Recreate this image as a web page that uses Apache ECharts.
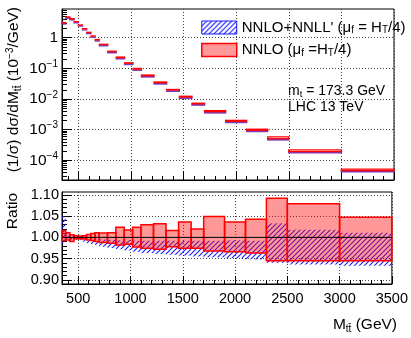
<!DOCTYPE html>
<html><head><meta charset="utf-8">
<script src="https://cdn.jsdelivr.net/npm/echarts@6/dist/echarts.min.js"></script>
<style>html,body{margin:0;padding:0;background:#fff}#c{width:411px;height:338px}</style>
</head><body><div id="c"></div>
<script>
// ---------- data ----------
const binEdges = [345,380,420,460,500,540,580,620,660,700,780,860,940,1020,1100,1220,1340,1460,1580,1700,1900,2100,2300,2500,3000,3500];
// normalized distribution (10^-3 / GeV)
const distValues = [3.0,4.6,4.07,3.25,2.54,1.92,1.46,1.11,0.84,0.59,0.35,0.223,0.146,0.095,0.0575,0.034,0.0197,0.0116,0.0070,0.0039,0.0019,0.00097,0.00052,0.00020,0.000048];
// ratio bands: NNLO+NNLL' (blue hatched)
const resumLow  = [0.986,0.991,0.992,0.996,0.994,0.990,0.986,0.984,0.982,0.978,0.975,0.972,0.969,0.966,0.963,0.961,0.959,0.957,0.955,0.953,0.951,0.948,0.940,0.936,0.933];
const resumHigh = [1.050,1.013,1.008,1.004,1.002,1.000,0.998,0.997,0.996,0.995,0.994,0.993,0.993,0.992,0.992,0.992,0.992,0.992,0.992,0.992,0.993,0.992,1.033,1.018,1.011];
// ratio bands: NNLO (red filled)
const nnloLow  = [0.9925,0.994,0.990,0.996,0.997,0.996,0.994,0.9925,0.990,0.988,0.986,0.982,0.984,0.977,0.9745,0.972,0.978,0.9745,0.9745,0.968,0.966,0.963,0.945,0.945,0.945];
const nnloHigh = [1.016,1.011,1.006,1.004,1.0035,1.004,1.0067,1.009,1.011,1.010,1.011,1.024,1.0176,1.024,1.030,1.032,1.016,1.0365,1.020,1.049,1.036,1.043,1.092,1.079,1.0475];
const ratioReference = 1.0;
// ticks
const xMajorTicks = [500,1000,1500,2000,2500,3000,3500];
const logMajorTicks = [1e-4,1e-3,1e-2,1e-1,1];
const ratioMajorTicks = [0.90,0.95,1.00,1.05,1.10];
const xRange = [345,3500];
const logRange = [2.28e-5, 8.64];
const ratioRange = [0.89, 1.107];

const xMinorTicks = []; for (let v = 400; v <= 3500; v += 100) xMinorTicks.push(v);
const logMinorTicks = []; for (let e = -5; e <= 0; e++) for (let k = 2; k <= 9; k++) { const v = k * Math.pow(10, e); if (v > logRange[0] && v < logRange[1]) logMinorTicks.push(v); }
const ratioMinorTicks = []; for (let i = 89; i <= 110; i++) ratioMinorTicks.push(i / 100);

const FONT = '"Liberation Sans", Arial, Helvetica, sans-serif';
const BLUE = '#1a1aff', RED = '#ff0000', REDFILL = 'rgba(255,0,0,0.4)';

function hatchCanvas() {
  const n = 5;
  const c = document.createElement('canvas'); c.width = n; c.height = n;
  const g = c.getContext('2d'); g.strokeStyle = BLUE; g.lineWidth = 1.1; g.lineCap = 'square';
  g.beginPath(); g.moveTo(0, n); g.lineTo(n, 0); g.moveTo(-1, 1); g.lineTo(1, -1); g.moveTo(n - 1, n + 1); g.lineTo(n + 1, n - 1); g.stroke();
  return c;
}
const HATCH = { image: hatchCanvas(), repeat: 'repeat' };

function bins(lows, highs, scale) {
  return binEdges.slice(0, -1).map((lo, i) => [lo, binEdges[i + 1], lows[i] * (scale ? scale[i] : 1), highs[i] * (scale ? scale[i] : 1)]);
}
function rectItem(api) {
  const a = api.coord([api.value(0), api.value(3)]);
  const b = api.coord([api.value(1), api.value(2)]);
  return { x: a[0], y: a[1], width: b[0] - a[0], height: b[1] - a[1] };
}

const chart = echarts.init(document.getElementById('c'), null, { renderer: 'canvas' });

const baseX = (grid) => ({ type: 'value', gridIndex: grid, min: xRange[0], max: xRange[1], position: 'bottom' });
const sup = { fontSize: 10, verticalAlign: 'top', lineHeight: 18, fontFamily: FONT, color: '#000' };

const option = {
  animation: false,
  backgroundColor: '#fff',
  textStyle: { fontFamily: FONT },
  grid: [
    { left: 62, width: 332, top: 9, height: 171, show: true, borderColor: '#000', borderWidth: 1, backgroundColor: 'transparent' },
    { left: 62, width: 332, top: 192, height: 92, show: true, borderColor: '#000', borderWidth: 1, backgroundColor: 'transparent' }
  ],
  xAxis: [
    Object.assign(baseX(0), { axisLine: { show: true, lineStyle: { color: '#000' } }, axisLabel: { show: false },
      axisTick: { show: true, inside: true, length: 9, customValues: xMajorTicks, lineStyle: { color: '#000' } },
      splitLine: { show: true, lineStyle: { type: [1, 2], color: '#444', width: 1 } } }),
    Object.assign(baseX(0), { axisLine: { show: false }, axisLabel: { show: false },
      axisTick: { show: true, inside: true, length: 4, customValues: xMinorTicks, lineStyle: { color: '#000' } }, splitLine: { show: false } }),
    Object.assign(baseX(1), { axisLine: { show: true, lineStyle: { color: '#000' } },
      axisLabel: { show: true, customValues: xMajorTicks, fontSize: 14.5, color: '#000', margin: 7, fontFamily: FONT, formatter: (v) => String(v) },
      axisTick: { show: true, inside: true, length: 8, customValues: xMajorTicks, lineStyle: { color: '#000' } },
      splitLine: { show: true, lineStyle: { type: [1, 2], color: '#444', width: 1 } } }),
    Object.assign(baseX(1), { axisLine: { show: false }, axisLabel: { show: false },
      axisTick: { show: true, inside: true, length: 4, customValues: xMinorTicks, lineStyle: { color: '#000' } }, splitLine: { show: false } })
  ],
  yAxis: [
    { type: 'log', logBase: 10, gridIndex: 0, min: logRange[0], max: logRange[1], position: 'left',
      axisLine: { show: true, lineStyle: { color: '#000' } },
      axisTick: { show: true, inside: true, length: 10, customValues: logMajorTicks, lineStyle: { color: '#000' } },
      axisLabel: { show: true, customValues: logMajorTicks, margin: 4, color: '#000', fontSize: 15.5, fontFamily: FONT,
        formatter: (v) => { const e = Math.round(Math.log10(v)); return e === 0 ? '{a|1}' : '{a|10}{s|' + String(e).replace('-', '\u2212') + '}'; },
        rich: { a: { fontSize: 15.5, fontFamily: FONT, color: '#000', lineHeight: 18 }, s: sup } },
      splitLine: { show: true, lineStyle: { type: [1, 2], color: '#444', width: 1 } } },
    { type: 'log', logBase: 10, gridIndex: 0, min: logRange[0], max: logRange[1], position: 'left',
      axisLine: { show: false }, axisLabel: { show: false }, splitLine: { show: false },
      axisTick: { show: true, inside: true, length: 5, customValues: logMinorTicks, lineStyle: { color: '#000' } } },
    { type: 'value', gridIndex: 1, min: ratioRange[0], max: ratioRange[1], position: 'left',
      axisLine: { show: true, lineStyle: { color: '#000' } },
      axisTick: { show: true, inside: true, length: 10, customValues: ratioMajorTicks, lineStyle: { color: '#000' } },
      axisLabel: { show: true, customValues: ratioMajorTicks, margin: 3, color: '#000', fontSize: 14.5, fontFamily: FONT, formatter: (v) => v.toFixed(2) },
      splitLine: { show: true, lineStyle: { type: [1, 2], color: '#444', width: 1 } } },
    { type: 'value', gridIndex: 1, min: ratioRange[0], max: ratioRange[1], position: 'left',
      axisLine: { show: false }, axisLabel: { show: false }, splitLine: { show: false },
      axisTick: { show: true, inside: true, length: 5, customValues: ratioMinorTicks, lineStyle: { color: '#000' } } }
  ],
  legend: {
    orient: 'vertical', left: 196, top: 15, itemWidth: 35, itemHeight: 13, itemGap: 7, icon: 'rect', selectedMode: false,
    textStyle: { fontSize: 15, color: '#000', fontFamily: FONT,
      rich: { a: { fontSize: 15, fontFamily: FONT, color: '#000', lineHeight: 16 }, b: { fontSize: 10, fontFamily: FONT, color: '#000', verticalAlign: 'bottom', lineHeight: 12 } } },
    formatter: (n) => n === 'NNLO' ? '{a|NNLO (\u03bc}{b|f}{a| =H}{b|T}{a|/4)}' : '{a|NNLO+NNLL\' (\u03bc}{b|f}{a| = H}{b|T}{a|/4)}',
    data: [
      { name: 'NNLO+NNLL\'', itemStyle: { color: HATCH, borderColor: BLUE, borderWidth: 1 } },
      { name: 'NNLO', itemStyle: { color: REDFILL, borderColor: RED, borderWidth: 1.5 } }
    ]
  },
  graphic: [
    { type: 'text', x: 23, y: 7, rotation: Math.PI / 2, style: { text: '{a|(1/\u03c3) d\u03c3/dM}{b|tt\u0304}{a| (10}{s|\u22123}{a|/GeV)}', align: 'right', verticalAlign: 'bottom',
      rich: { a: { fontSize: 15.5, fontFamily: FONT, fill: '#000', lineHeight: 18 }, b: { fontSize: 10, fontFamily: FONT, fill: '#000', verticalAlign: 'bottom', lineHeight: 14 }, s: { fontSize: 10, fontFamily: FONT, fill: '#000', verticalAlign: 'top', lineHeight: 18 } } } },
    { type: 'text', x: 21, y: 193, rotation: Math.PI / 2, style: { text: 'Ratio', align: 'right', verticalAlign: 'bottom', fontSize: 15.5, fontFamily: FONT, fill: '#000' } },
    { type: 'text', x: 397, y: 325, style: { text: '{a|M}{b|tt\u0304}{a| (GeV)}', align: 'right', verticalAlign: 'middle',
      rich: { a: { fontSize: 15.5, fontFamily: FONT, fill: '#000', lineHeight: 18 }, b: { fontSize: 10, fontFamily: FONT, fill: '#000', verticalAlign: 'bottom', lineHeight: 14 } } } },
    { type: 'text', x: 288, y: 91, style: { text: '{a|m}{b|t}{a| = 173.3 GeV}', align: 'left', verticalAlign: 'middle',
      rich: { a: { fontSize: 14, fontFamily: FONT, fill: '#000', lineHeight: 16 }, b: { fontSize: 9.5, fontFamily: FONT, fill: '#000', verticalAlign: 'bottom', lineHeight: 12 } } } },
    { type: 'text', x: 288, y: 107, style: { text: 'LHC 13 TeV', align: 'left', verticalAlign: 'middle', fontSize: 14, fontFamily: FONT, fill: '#000' } }
  ],
  series: [
    // top panel: NNLO+NNLL'
    { type: 'custom', name: 'NNLO+NNLL\'', xAxisIndex: 0, yAxisIndex: 0, data: bins(resumLow, resumHigh, distValues), encode: { x: [0, 1], y: [2, 3] },
      itemStyle: { color: HATCH, borderColor: BLUE },
      renderItem: (p, api) => ({ type: 'rect', shape: rectItem(api), y: 0.8, style: { fill: null, stroke: '#7a3cc0', lineWidth: 1.3 } }) },
    // top panel: NNLO
    { type: 'custom', name: 'NNLO', xAxisIndex: 0, yAxisIndex: 0, data: bins(nnloLow, nnloHigh, distValues), encode: { x: [0, 1], y: [2, 3] },
      itemStyle: { color: REDFILL, borderColor: RED },
      renderItem: (p, api) => ({ type: 'rect', shape: rectItem(api), y: -0.3, style: { fill: null, stroke: RED, lineWidth: 1.3 } }) },
    // ratio: NNLO+NNLL'
    { type: 'custom', name: 'NNLO+NNLL\'', xAxisIndex: 2, yAxisIndex: 2, data: bins(resumLow, resumHigh), encode: { x: [0, 1], y: [2, 3] },
      itemStyle: { color: HATCH, borderColor: BLUE },
      renderItem: (p, api) => ({ type: 'rect', shape: rectItem(api), style: { fill: HATCH, stroke: null } }) },
    // ratio: NNLO
    { type: 'custom', name: 'NNLO', xAxisIndex: 2, yAxisIndex: 2, data: bins(nnloLow, nnloHigh), encode: { x: [0, 1], y: [2, 3] },
      itemStyle: { color: REDFILL, borderColor: RED },
      renderItem: (p, api) => ({ type: 'rect', shape: rectItem(api), style: { fill: REDFILL, stroke: RED, lineWidth: 1.5 } }) },
    // reference line at 1
    { type: 'line', name: 'ref', xAxisIndex: 2, yAxisIndex: 2, data: [[xRange[0], ratioReference], [xRange[1], ratioReference]], symbol: 'none', silent: true,
      lineStyle: { color: '#000', width: 1 }, z: 5 }
  ]
};
chart.setOption(option);
</script></body></html>
